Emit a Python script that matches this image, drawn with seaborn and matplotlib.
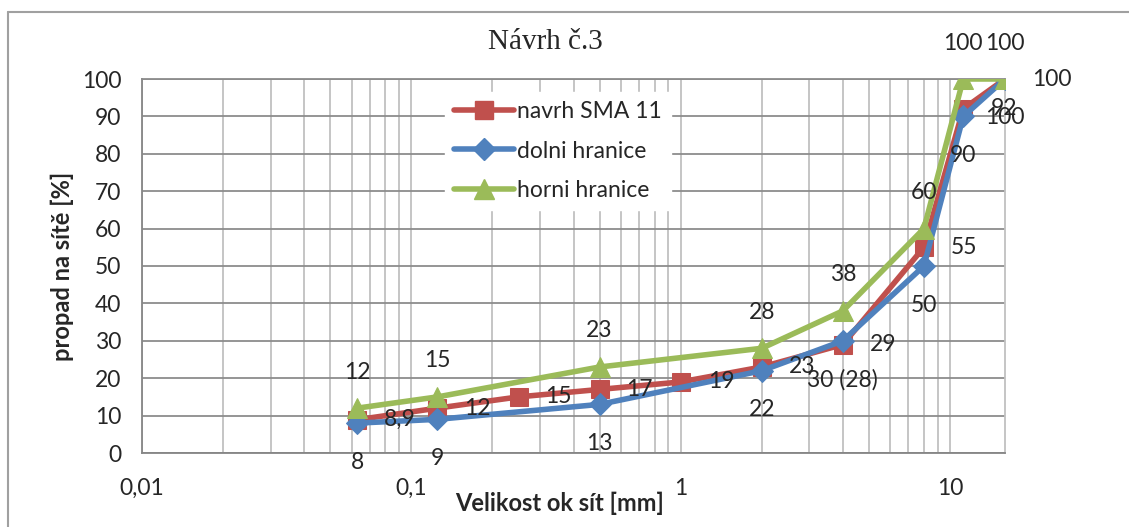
import matplotlib
matplotlib.use('Agg')
import matplotlib.pyplot as plt
import seaborn as sns
import pandas as pd
from matplotlib.ticker import FixedLocator, FixedFormatter, LogLocator, NullFormatter
from matplotlib.lines import Line2D

# sieve sizes [mm] and passing values [%]
sieve_red = [0.063, 0.125, 0.25, 0.5, 1, 2, 4, 8, 11.2, 16]
navrh = [8.9, 12, 15, 17, 19, 23, 29, 55, 92, 100]
navrh_labels = ['8,9', '12', '15', '17', '19', '23', '29', '55', '92', '100']

sieve_lim = [0.063, 0.125, 0.5, 2, 4, 8, 11.2, 16]
dolni = [8, 9, 13, 22, 30, 50, 90, 100]
dolni_labels = ['8', '9', '13', '22', '30 (28)', '50', '90', '100']
horni = [12, 15, 23, 28, 38, 60, 100, 100]
horni_labels = ['12', '15', '23', '28', '38', '60', '100', '100']

x_ticks = [0.01, 0.1, 1, 10]
x_tick_labels = ['0,01', '0,1', '1', '10']
y_ticks = list(range(0, 101, 10))

red = '#C0504D'
blue = '#4F81BD'
green = '#9BBB59'
fs = 16.5

sns.set_style('white')
plt.rcParams['font.family'] = ['Lato', 'DejaVu Sans']

fig = plt.figure(figsize=(11.29, 5.27), dpi=100)
ax = fig.add_axes([142 / 1129, 74 / 527, 863 / 1129, 374 / 527])

df_red = pd.DataFrame({'x': sieve_red, 'y': navrh})
df_blue = pd.DataFrame({'x': sieve_lim, 'y': dolni})
df_green = pd.DataFrame({'x': sieve_lim, 'y': horni})

sns.lineplot(data=df_red, x='x', y='y', ax=ax, color=red, lw=4, marker='s',
             markersize=13.5, markeredgecolor=red, estimator=None, zorder=3)
sns.lineplot(data=df_blue, x='x', y='y', ax=ax, color=blue, lw=4, marker='D',
             markersize=11.5, markeredgecolor=blue, estimator=None, zorder=4)
sns.lineplot(data=df_green, x='x', y='y', ax=ax, color=green, lw=4, marker='^',
             markersize=14.5, markeredgecolor=green, estimator=None, zorder=5)

ax.set_xscale('log')
ax.set_xlim(0.01, 16)
ax.set_ylim(0, 100)

# data labels
for x, y, t in zip(sieve_red, navrh, navrh_labels):
    ax.annotate(t, (x, y), xytext=(27, 0), textcoords='offset pixels',
                ha='left', va='center', fontsize=fs, zorder=6, annotation_clip=False)
for x, y, t in zip(sieve_lim, dolni, dolni_labels):
    ax.annotate(t, (x, y), xytext=(0, -39), textcoords='offset pixels',
                ha='center', va='center', fontsize=fs, zorder=6, annotation_clip=False)
for x, y, t in zip(sieve_lim, horni, horni_labels):
    ax.annotate(t, (x, y), xytext=(0, 36), textcoords='offset pixels',
                ha='center', va='center', fontsize=fs, zorder=6, annotation_clip=False)

# axes, ticks and grid
ax.xaxis.set_major_locator(FixedLocator(x_ticks))
ax.xaxis.set_major_formatter(FixedFormatter(x_tick_labels))
ax.xaxis.set_minor_locator(LogLocator(base=10, subs=range(2, 10)))
ax.xaxis.set_minor_formatter(NullFormatter())
ax.set_yticks(y_ticks)
ax.tick_params(axis='x', which='major', direction='out', length=6, width=1.2,
               color='#868686', pad=12, labelsize=fs)
ax.tick_params(axis='x', which='minor', length=0)
ax.tick_params(axis='y', direction='out', length=6, width=1.2,
               color='#868686', pad=9, labelsize=fs)
ax.grid(axis='y', which='major', color='#8c8c8c', lw=1.3)
ax.grid(axis='x', which='both', color='#c0c0c0', lw=1.3)
ax.set_axisbelow(True)
for side in ['left', 'bottom']:
    ax.spines[side].set_color('#868686')
    ax.spines[side].set_linewidth(1.3)
ax.spines['top'].set_color('#8c8c8c')
ax.spines['top'].set_linewidth(1.3)
ax.spines['right'].set_color('#c0c0c0')
ax.spines['right'].set_linewidth(1.3)

ax.set_xlabel('Velikost ok sít [mm]', fontsize=17, fontweight='bold')
ax.xaxis.set_label_coords((560 - 142) / 863, -(503 - 453) / 374)
ax.xaxis.label.set_va('center')
ax.set_ylabel('propad na sítě [%]', fontsize=17, fontweight='bold')
ax.yaxis.set_label_coords(-(142 - 62) / 863, 0.5)
ax.yaxis.label.set_va('center')

fig.text(545 / 1129, 1 - 42 / 527, 'Návrh č.3', ha='center', va='center',
         fontsize=21, family=['Liberation Serif', 'DejaVu Serif'])

# legend
handles = [
    Line2D([], [], color=red, lw=4, marker='s', markersize=13.5),
    Line2D([], [], color=blue, lw=4, marker='D', markersize=11.5),
    Line2D([], [], color=green, lw=4, marker='^', markersize=14.5),
]
leg = ax.legend(handles, ['navrh SMA 11', 'dolni hranice', 'horni hranice'],
                loc='upper left', bbox_to_anchor=((445 - 142) / 863, 1 - (92 - 79) / 374),
                fontsize=fs, frameon=True, fancybox=False, handlelength=2.6,
                handletextpad=0.15, labelspacing=0.8, borderpad=0.4, borderaxespad=0)
leg.get_frame().set_edgecolor('white')
leg.get_frame().set_facecolor('white')
leg.get_frame().set_alpha(1)

# outer chart border
fig.add_artist(Line2D([8 / 1129, 8 / 1129], [0, 1 - 12 / 527], transform=fig.transFigure,
                      color='#a0a0a0', lw=1.5))
fig.add_artist(Line2D([8 / 1129, 1], [1 - 12 / 527, 1 - 12 / 527], transform=fig.transFigure,
                      color='#a0a0a0', lw=1.5))

fig.savefig('out.png', dpi=100)
